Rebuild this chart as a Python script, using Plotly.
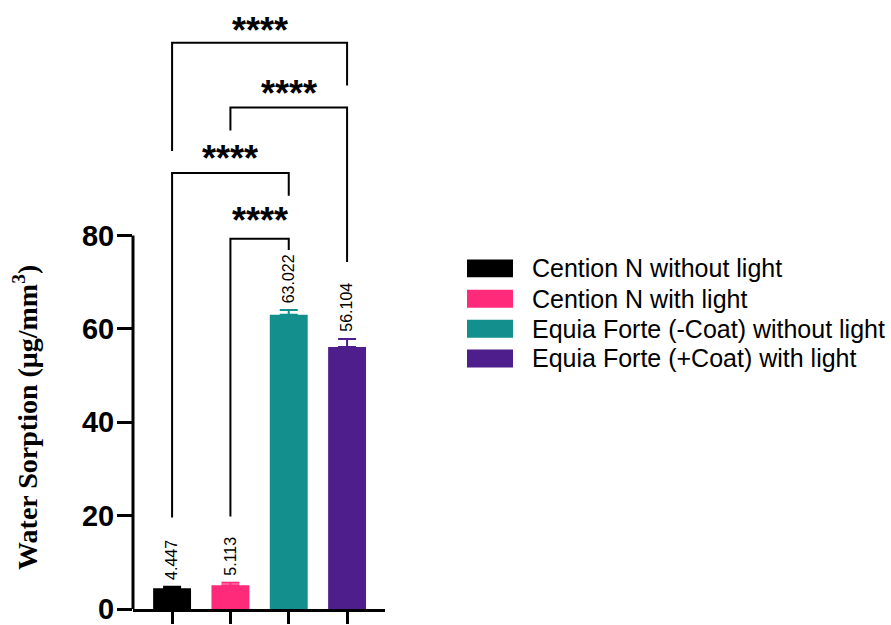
import plotly.graph_objects as go

# ---- data ----
categories = ["Cention N without light", "Cention N with light",
              "Equia Forte (-Coat) without light", "Equia Forte (+Coat) with light"]
values = [4.447, 5.113, 63.022, 56.104]
errors = [0.3, 0.5, 1.0, 1.7]
value_labels = ["4.447", "5.113", "63.022", "56.104"]
colors = ["#000000", "#FF2A7A", "#13908E", "#4E1E8C"]
y_ticks = [0, 20, 40, 60, 80]

# significance brackets: (left group, right group, bar height, left leg end, right leg end, star y)
brackets = [
    (0, 3, 121.3, 98.1, 112.1, 125.2),
    (1, 3, 107.4, 102.5, 74.3, 111.6),
    (0, 2, 93.4, 19.6, 88.5, 97.7),
    (1, 2, 79.3, 19.8, 76.9, 84.5),
]
star_text = "****"

# ---- layout geometry (page pixels) ----
W, H = 891, 625
L, R, T, B = 133, 385, 0, 615
PX_PER_UNIT = 4.715

def px_x(p):
    return (p - L) / (R - L)

def px_y(p):
    return (B - p) / (B - T)

fig = go.Figure()
for i, (cat, v, e, c) in enumerate(zip(categories, values, errors, colors)):
    fig.add_trace(go.Bar(
        x=[i], y=[v], name=cat, width=0.65,
        marker=dict(color=c, line=dict(width=0)),
        error_y=dict(type="data", symmetric=False, array=[e], arrayminus=[0],
                     color=c, thickness=2, width=9),
        showlegend=False,
    ))

shapes = []
annotations = []

# y axis line only up to 80
shapes.append(dict(type="line", xref="paper", yref="y", x0=0, x1=0, y0=0, y1=max(y_ticks),
                   line=dict(color="black", width=3)))

# brackets
for (a, b, h, la, lb, sy) in brackets:
    shapes.append(dict(type="path", xref="x", yref="y",
                       path=f"M {a},{la} L {a},{h} L {b},{h} L {b},{lb}",
                       line=dict(color="black", width=2)))
    annotations.append(dict(x=(a + b) / 2, y=sy, xref="x", yref="y", text=star_text,
                            showarrow=False, yanchor="middle", yshift=-6,
                            font=dict(family="Arial, Liberation Sans", size=36, color="black",
                                      weight="bold")))

# value labels
for i, (v, e, t) in enumerate(zip(values, errors, value_labels)):
    annotations.append(dict(x=i, y=v + e, xref="x", yref="y", text=t, showarrow=False,
                            textangle=-90, yanchor="bottom", xanchor="center", yshift=5,
                            font=dict(family="Arial, Liberation Sans", size=16, color="black")))

# y title
annotations.append(dict(x=px_x(26), y=px_y(422), xref="paper", yref="paper",
                        text="Water Sorption (μg/mm<sup>3</sup>)", showarrow=False,
                        textangle=-90, xanchor="center", yanchor="middle",
                        font=dict(family="Times New Roman, Liberation Serif", size=28,
                                  color="black", weight="bold")))

# custom legend
row_centers = [271, 301.7, 332, 362]
for cat, c, yc in zip(categories, colors, row_centers):
    shapes.append(dict(type="rect", xref="paper", yref="paper",
                       x0=px_x(467), x1=px_x(513), y0=px_y(yc + 9), y1=px_y(yc - 9),
                       fillcolor=c, line=dict(width=0)))
    annotations.append(dict(x=px_x(530), y=px_y(yc), xref="paper", yref="paper", text=cat,
                            showarrow=False, xanchor="left", yanchor="middle",
                            font=dict(family="Arial, Liberation Sans", size=25, color="black")))

fig.update_layout(
    width=W, height=H,
    margin=dict(l=L, r=W - R, t=T, b=H - B, pad=0),
    paper_bgcolor="white", plot_bgcolor="white",
    barmode="overlay",
    shapes=shapes, annotations=annotations,
    xaxis=dict(range=[-0.67, 3.65], tickvals=[0, 1, 2, 3], showticklabels=False,
               ticks="outside", ticklen=12, tickwidth=3, tickcolor="black",
               showline=True, linewidth=3, linecolor="black",
               showgrid=False, zeroline=False, fixedrange=True),
    yaxis=dict(range=[0, (B - T) / PX_PER_UNIT], tickvals=y_ticks, ticks="outside", ticklen=15,
               tickwidth=3, tickcolor="black", showline=False, showgrid=False, zeroline=False,
               ticklabeloverflow="allow", ticklabelstandoff=-3,
               tickfont=dict(family="Arial, Liberation Sans", size=29, color="black", weight="bold"),
               fixedrange=True),
)

# remove the default page margin so the figure fills the window exactly
fig.write_html("out.html", config={"displayModeBar": False},
               post_script="document.body.style.margin='0';document.body.style.overflow='hidden';")
